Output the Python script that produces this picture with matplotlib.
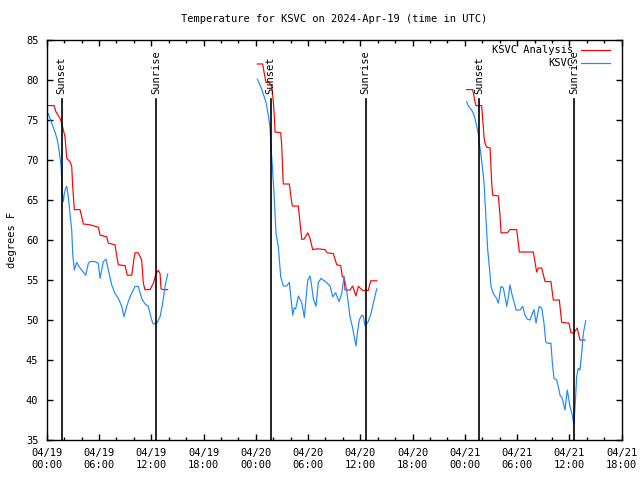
import matplotlib
matplotlib.use("Agg")
import matplotlib.pyplot as plt
import numpy as np

# hours since 2024-04-19 00:00 UTC, temperatures in F
ana1_t = [0.18, 0.84, 1.07, 1.53, 1.72, 2.10, 2.22, 2.30, 2.68, 2.87, 2.98, 3.17, 3.82, 4.02, 4.20, 4.97,
          5.92, 6.12, 6.89, 7.07, 7.84, 8.03, 8.22, 8.99, 9.25, 9.76, 10.02, 10.14, 10.51, 10.90, 11.09,
          11.28, 11.86, 12.24, 12.55, 12.81, 13.01, 13.12, 13.38, 13.89]
ana1_v = [76.8, 76.8, 76.0, 75.2, 74.6, 72.9, 71.25, 70.2, 69.8, 69.2, 66.7, 63.8, 63.8, 62.9, 62.0, 61.9,
          61.6, 60.6, 60.4, 59.6, 59.4, 58.1, 56.9, 56.8, 55.6, 55.6, 57.7, 58.4, 58.4, 57.5, 54.6,
          53.8, 53.8, 54.6, 55.8, 56.2, 55.8, 53.9, 53.8, 53.8]
obs1_t = [0.18, 0.38, 0.57, 0.95, 1.22, 1.41, 1.61, 1.68, 1.72, 1.79, 1.91, 2.02, 2.18, 2.30, 2.48, 2.67,
          2.87, 2.98, 3.17, 3.44, 3.82, 4.48, 4.78, 4.97, 5.54, 5.92, 6.12, 6.50, 6.81, 7.07, 7.46, 7.84,
          8.22, 8.61, 8.87, 9.18, 9.56, 10.14, 10.51, 10.90, 11.28, 11.66, 12.05, 12.24, 12.63, 13.01,
          13.31, 13.58, 13.89]
obs1_v = [75.8, 75.2, 74.6, 73.5, 72.5, 71.25, 69.6, 68.75, 67.1, 65.8, 64.8, 65.8, 66.5, 66.7, 65.4, 63.3,
          61.25, 58.3, 56.25, 57.2, 56.5, 55.6, 57.1, 57.3, 57.3, 57.1, 55.2, 57.3, 57.6, 56.25, 54.4, 53.3,
          52.7, 51.7, 50.4, 51.7, 52.9, 54.2, 54.2, 52.7, 52.0, 51.7, 50.0, 49.5, 49.6, 50.4,
          52.1, 54.2, 55.75]

ana2_t = [24.17, 24.79, 24.94, 25.17, 25.55, 25.83, 26.01, 26.13, 26.21, 26.86, 26.97, 27.09, 27.16, 27.85,
          28.01, 28.19, 28.88, 29.07, 29.27, 29.53, 29.96, 30.22, 30.53, 31.06, 31.94, 32.21, 32.90, 33.29,
          33.75, 33.93, 34.13, 34.24, 34.81, 35.12, 35.50, 35.77, 36.27, 36.91, 37.19, 37.88]
ana2_v = [82.0, 82.0, 81.0, 79.7, 79.7, 79.2, 77.3, 75.4, 73.5, 73.4, 71.9, 68.5, 67.0, 67.0,
          65.6, 64.25, 64.25, 62.2, 60.1, 60.1, 60.9, 60.2, 58.8, 58.9, 58.8, 58.4, 58.3, 56.9,
          56.8, 55.4, 55.4, 53.75, 53.75, 54.25, 53.0, 54.2, 53.7, 53.7, 54.9, 54.9]
obs2_t = [24.17, 24.48, 24.79, 25.17, 25.44, 25.63, 25.75, 25.90, 26.09, 26.32, 26.58, 26.86, 27.16, 27.55,
          27.85, 28.04, 28.24, 28.39, 28.58, 28.88, 29.27, 29.57, 29.96, 30.22, 30.42, 30.60, 30.91, 31.18,
          31.49, 32.21, 32.52, 32.83, 33.17, 33.55, 33.86, 34.13, 34.36, 34.62, 34.81, 35.12, 35.27, 35.50,
          35.65, 35.88, 36.16, 36.34, 36.54, 36.91, 37.22, 37.49, 37.88]
obs2_v = [80.1, 79.4, 78.5, 77.2, 75.6, 74.0, 71.5, 69.2, 65.8, 60.8, 59.2, 55.4, 54.25, 54.25,
          54.7, 52.7, 50.6, 51.5, 51.4, 53.0, 52.2, 50.3, 55.0, 55.5, 54.2, 52.7, 51.7, 54.7,
          55.2, 54.6, 54.25, 52.9, 53.4, 52.3, 53.3, 55.4, 54.2, 52.1, 50.4, 49.0, 48.1, 46.75,
          48.3, 50.0, 50.6, 50.5, 49.25, 49.8, 50.8, 52.1, 53.9]

ana3_t = [48.21, 48.90, 49.16, 49.28, 49.93, 50.05, 50.20, 50.31, 50.51, 50.89, 51.08, 51.19, 51.84, 52.03,
          52.15, 52.87, 53.18, 53.95, 54.25, 55.86, 56.05, 56.24, 56.43, 56.82, 57.20, 57.88, 58.15, 58.84,
          59.11, 59.95, 60.18, 60.52, 60.90, 61.21, 61.79]
ana3_v = [78.8, 78.8, 77.3, 76.8, 76.8, 75.0, 72.9, 72.1, 71.6, 71.5, 67.1, 65.6, 65.5, 63.1,
          60.9, 60.9, 61.3, 61.3, 58.5, 58.5, 57.2, 56.0, 56.5, 56.5, 54.8, 54.8, 52.5, 52.5,
          49.7, 49.6, 48.4, 48.4, 49.0, 47.5, 47.5]
obs3_t = [48.21, 48.39, 48.78, 49.05, 49.28, 49.54, 49.66, 49.82, 50.00, 50.20, 50.39, 50.62, 50.80, 51.00,
          51.26, 51.65, 51.84, 52.15, 52.41, 52.61, 52.80, 52.99, 53.18, 53.38, 53.68, 53.87, 54.33, 54.64,
          54.90, 55.17, 55.48, 55.67, 55.94, 56.17, 56.36, 56.54, 56.82, 57.08, 57.28, 57.46, 57.88, 58.03,
          58.23, 58.54, 58.72, 58.92, 59.18, 59.49, 59.75, 59.95, 60.06, 60.29, 60.52, 60.72, 60.83, 61.01,
          61.21, 61.40, 61.59, 61.87]
obs3_v = [77.3, 76.75, 76.25, 75.6, 74.6, 73.3, 72.1, 70.8, 69.2, 67.1, 63.3, 58.75, 56.7, 54.2,
          53.3, 52.7, 52.1, 54.2, 54.0, 52.9, 51.7, 52.9, 54.4, 53.3, 52.1, 51.25, 51.25, 51.7,
          50.6, 50.1, 50.0, 50.6, 51.3, 49.6, 50.8, 51.7, 51.5, 49.6, 47.3, 47.1, 47.1, 44.8,
          42.7, 42.5, 41.7, 40.6, 40.2, 38.75, 41.25, 40.0, 39.2, 38.3, 36.9, 40.6, 42.9, 43.95,
          43.75, 45.8, 48.3, 49.9]

sun_t = [1.72, 12.55, 25.71, 36.62, 49.66, 60.56]
sun_lbl = ["Sunset", "Sunrise", "Sunset", "Sunrise", "Sunset", "Sunrise"]

tick_hours = [0, 6, 12, 18, 24, 30, 36, 42, 48, 54, 60, 66]
tick_lbls = ["04/19\n00:00", "04/19\n06:00", "04/19\n12:00", "04/19\n18:00",
             "04/20\n00:00", "04/20\n06:00", "04/20\n12:00", "04/20\n18:00",
             "04/21\n00:00", "04/21\n06:00", "04/21\n12:00", "04/21\n18:00"]

plt.rcParams['font.family'] = 'DejaVu Sans Mono'
plt.rcParams['font.size'] = 7.5

fig = plt.figure(figsize=(6.4, 4.8), dpi=100)
ax = fig.add_axes([0.073, 0.0833, 0.8984, 0.8334])

red = "#ff0000"
blue = "#1e88ff"
for t, v in [(ana1_t, ana1_v), (ana2_t, ana2_v), (ana3_t, ana3_v)]:
    ax.plot(t, v, color=red, lw=0.85)
for t, v in [(obs1_t, obs1_v), (obs2_t, obs2_v), (obs3_t, obs3_v)]:
    ax.plot(t, v, color=blue, lw=0.85)

for t, lbl in zip(sun_t, sun_lbl):
    ax.plot([t, t], [35, 77.6], color="black", lw=1.2)
    ax.text(t, 78.3, lbl, rotation=90, ha="center", va="bottom")

ax.set_xlim(0, 66)
ax.set_ylim(35, 85)
ax.set_xticks(tick_hours)
ax.set_xticklabels(tick_lbls)
ax.set_xticks(np.arange(0, 67, 2), minor=True)
ax.set_yticks(np.arange(35, 86, 5))
ax.tick_params(axis="both", which="major", direction="in", length=4, width=1,
               top=True, right=True, pad=6)
ax.tick_params(axis="x", which="minor", direction="in", length=2, width=1, top=True)
for s in ax.spines.values():
    s.set_linewidth(1.0)

ax.set_ylabel("degrees F")
ax.yaxis.set_label_coords(-0.052, 0.5)

# legend, gnuplot style: right aligned text then line sample
ax.text(0.915, 0.975, "KSVC Analysis", transform=ax.transAxes, ha="right", va="center")
ax.plot([0.93, 0.98], [0.975, 0.975], color=red, lw=0.85, transform=ax.transAxes, clip_on=False)
ax.text(0.915, 0.943, "KSVC", transform=ax.transAxes, ha="right", va="center")
ax.plot([0.93, 0.98], [0.943, 0.943], color=blue, lw=0.85, transform=ax.transAxes, clip_on=False)

fig.text(0.522, 1 - 19 / 480, "Temperature for KSVC on 2024-Apr-19 (time in UTC)", ha="center", va="center")

fig.savefig("out.png", dpi=100)
